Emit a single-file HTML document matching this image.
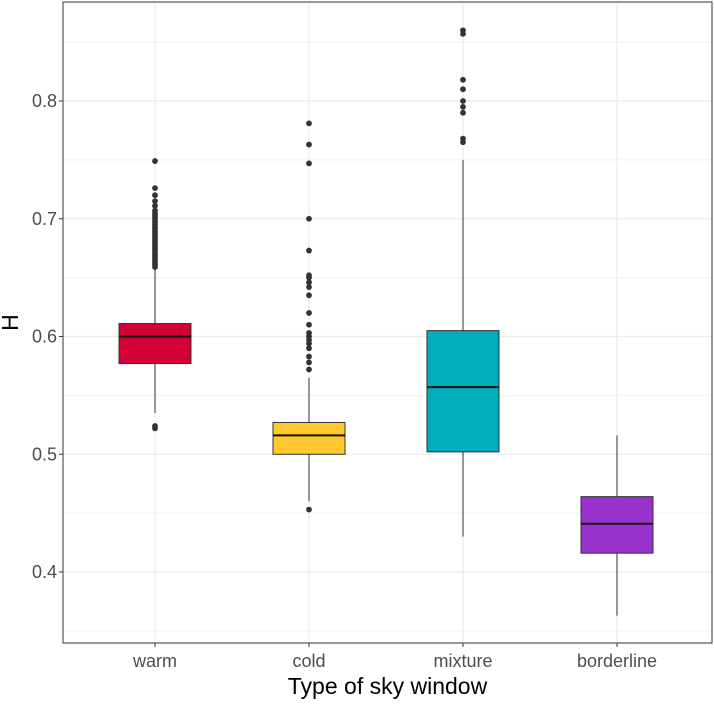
<!DOCTYPE html>
<html><head><meta charset="utf-8"><style>
body{margin:0;background:#fff;font-family:"Liberation Sans",sans-serif;}
</style></head><body>
<svg id="chart" width="714" height="701" xmlns="http://www.w3.org/2000/svg">
<g id="grid"></g><g id="marks"></g><g id="axes"></g>
</svg>
<script>
const categories=["warm","cold","mixture","borderline"];
const colors=["#d20035","#ffc82e","#00aebb","#9932cc"];
const q1=[0.577,0.500,0.502,0.416];
const med=[0.600,0.516,0.557,0.441];
const q3=[0.611,0.527,0.605,0.464];
const wlo=[0.535,0.460,0.430,0.363];
const whi=[0.658,0.565,0.750,0.516];
const outliers=[
 [0.522,0.524,0.659,0.661,0.663,0.665,0.667,0.669,0.671,0.673,0.675,0.677,0.679,0.681,0.683,0.685,0.687,0.689,0.691,0.693,0.695,0.697,0.699,0.701,0.703,0.705,0.707,0.711,0.715,0.720,0.726,0.749],
 [0.453,0.572,0.578,0.583,0.590,0.594,0.597,0.600,0.603,0.610,0.620,0.635,0.642,0.646,0.650,0.652,0.673,0.700,0.747,0.763,0.781],
 [0.765,0.768,0.790,0.795,0.800,0.810,0.818,0.857,0.860],
 []
];
const yTicks=[0.4,0.5,0.6,0.7,0.8];
const yMinor=[0.35,0.45,0.55,0.65,0.75,0.85];
const L=63,R=712,T=2,B=643;
const y=v=>572-(v-0.4)*1177.5;
const x=i=>155+i*154;
const NS="http://www.w3.org/2000/svg";
function mk(parent,tag,attrs){const e=document.createElementNS(NS,tag);for(const k in attrs)e.setAttribute(k,attrs[k]);document.getElementById(parent).appendChild(e);return e;}
mk("grid","rect",{x:L,y:T,width:R-L,height:B-T,fill:"#fff"});
yMinor.forEach(v=>{const e=mk("grid","line",{x1:L,x2:R,y1:y(v),y2:y(v),stroke:"#f2f2f2","stroke-width":1});

});
yTicks.forEach(v=>{const e=mk("grid","line",{x1:L,x2:R,y1:y(v),y2:y(v),stroke:"#ebebeb","stroke-width":1.2});


const t=mk("axes","text",{x:L-6,y:y(v)+6,"text-anchor":"end","font-size":18,fill:"#4d4d4d"});t.textContent=v.toFixed(1);


mk("axes","line",{x1:L-4,x2:L,y1:y(v),y2:y(v),stroke:"#333"});});
categories.forEach((c,i)=>{
 const g=mk("grid","line",{x1:x(i),x2:x(i),y1:T,y2:B,stroke:"#ebebeb","stroke-width":1.2});
 
 
 const w=mk("marks","line",{x1:x(i),x2:x(i),y1:y(wlo[i]),y2:y(whi[i]),stroke:"#333","stroke-width":1});
 
 
 const b=mk("marks","rect",{x:x(i)-36,y:y(q3[i]),width:72,height:y(q1[i])-y(q3[i]),fill:colors[i],stroke:"#333","stroke-width":1});
 
 
 const m=mk("marks","line",{x1:x(i)-36,x2:x(i)+36,y1:y(med[i]),y2:y(med[i]),stroke:"#111","stroke-width":2});
 
 
 outliers[i].forEach(v=>{const p=mk("marks","circle",{cx:x(i),cy:y(v),r:2.9,fill:"#333"});
 
 });
 mk("axes","line",{x1:x(i),x2:x(i),y1:B,y2:B+4,stroke:"#333"});
 const t=mk("axes","text",{x:x(i),y:B+24,"text-anchor":"middle","font-size":18,fill:"#4d4d4d"});t.textContent=c;
 
 
});
const fr=mk("axes","rect",{x:L,y:T,width:R-L,height:B-T,fill:"none",stroke:"#333","stroke-width":1});


const xt=mk("axes","text",{x:(L+R)/2,y:694,"text-anchor":"middle","font-size":23,fill:"#000"});xt.textContent="Type of sky window";


const yt=mk("axes","text",{x:18,y:(T+B)/2,"text-anchor":"middle","font-size":23,fill:"#000",transform:`rotate(-90 18 ${(T+B)/2})`});yt.textContent="H";


</script>
</body></html>
